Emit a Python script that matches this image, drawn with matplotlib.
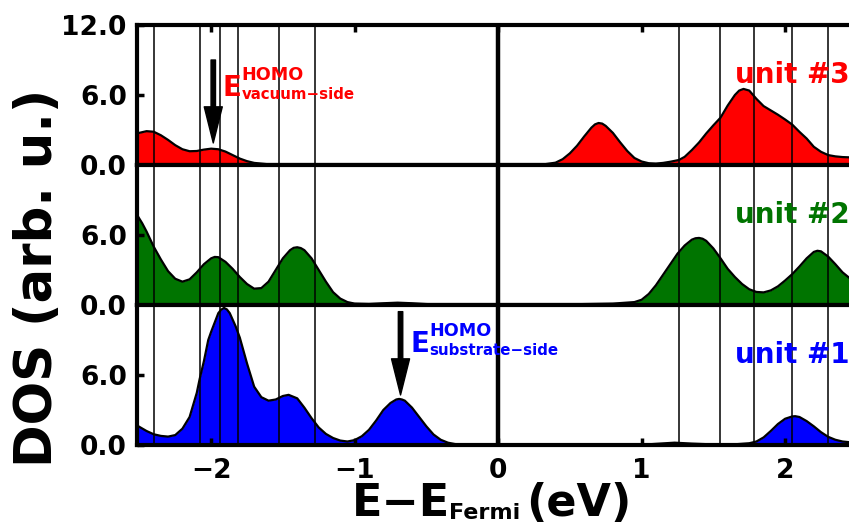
import matplotlib
matplotlib.use("Agg")
import matplotlib.pyplot as plt
from matplotlib.transforms import offset_copy

# ---------------- data ----------------
x_unit3 = [-2.52, -2.45, -2.40, -2.35, -2.30, -2.25, -2.20, -2.15, -2.10, -2.05,
           -2.00, -1.95, -1.90, -1.85, -1.80, -1.75, -1.70, -1.60, -1.50, -1.30,
           0.20, 0.30, 0.40, 0.45, 0.50, 0.55, 0.60, 0.65, 0.675, 0.70, 0.725, 0.75,
           0.80, 0.85, 0.90, 0.95, 1.00, 1.05, 1.10, 1.15, 1.20, 1.26,
           1.30, 1.35, 1.40, 1.45, 1.50, 1.55, 1.60, 1.65, 1.68, 1.71, 1.75,
           1.80, 1.85, 1.90, 1.95, 2.00, 2.05, 2.10, 2.15, 2.20, 2.25,
           2.30, 2.35, 2.40, 2.52]
dos_unit3 = [2.70, 2.90, 2.85, 2.55, 2.15, 1.70, 1.35, 1.18, 1.20, 1.32,
             1.40, 1.35, 1.15, 0.85, 0.55, 0.33, 0.18, 0.06, 0.02, 0.0,
             0.0, 0.02, 0.2, 0.5, 1.0, 1.65, 2.45, 3.2, 3.48, 3.6, 3.55, 3.35,
             2.75, 1.95, 1.2, 0.6, 0.3, 0.15, 0.12, 0.18, 0.28, 0.43,
             0.7, 1.28, 1.93, 2.7, 3.4, 4.06, 5.1, 6.0, 6.38, 6.52, 6.38,
             5.67, 5.05, 4.68, 4.31, 3.9, 3.46, 2.84, 2.27, 1.56, 1.13,
             0.85, 0.74, 0.68, 0.62]

x_unit2 = [-2.52, -2.48, -2.45, -2.40, -2.35, -2.30, -2.25, -2.20, -2.15, -2.10,
           -2.05, -2.00, -1.975, -1.95, -1.90, -1.85, -1.80, -1.75, -1.70, -1.65, -1.60,
           -1.55, -1.50, -1.45, -1.425, -1.40, -1.375, -1.35, -1.30, -1.25, -1.20, -1.15, -1.10,
           -1.05, -1.00, -0.90, -0.80, -0.70, -0.60, -0.50, -0.40, -0.20, 0.00,
           0.50, 0.80, 0.95, 1.00, 1.05, 1.10, 1.15, 1.20, 1.25, 1.30,
           1.35, 1.375, 1.40, 1.425, 1.45, 1.50, 1.55, 1.60, 1.65, 1.70, 1.75, 1.80,
           1.85, 1.90, 1.95, 2.00, 2.05, 2.10, 2.15, 2.20, 2.225, 2.25, 2.30,
           2.35, 2.40, 2.52]
dos_unit2 = [7.8, 7.0, 6.3, 5.0, 3.9, 2.9, 2.25, 2.0, 2.2, 2.8,
             3.5, 4.0, 4.12, 4.1, 3.7, 3.1, 2.4, 1.8, 1.4, 1.45, 2.0,
             3.0, 4.0, 4.7, 4.9, 4.95, 4.88, 4.7, 4.0, 3.0, 2.0, 1.1, 0.55,
             0.25, 0.12, 0.09, 0.15, 0.2, 0.15, 0.08, 0.04, 0.01, 0.0,
             0.06, 0.12, 0.25, 0.45, 0.95, 1.7, 2.6, 3.5, 4.4, 5.1,
             5.6, 5.72, 5.75, 5.68, 5.5, 4.85, 4.0, 3.1, 2.4, 1.8, 1.35, 1.12,
             1.08, 1.25, 1.6, 2.1, 2.65, 3.3, 4.0, 4.55, 4.65, 4.6, 4.15,
             3.5, 2.8, 1.6]

x_unit1 = [-2.52, -2.45, -2.40, -2.35, -2.30, -2.25, -2.20, -2.15, -2.10, -2.08,
           -2.05, -2.02, -2.00, -1.95, -1.93, -1.91, -1.89, -1.87, -1.83, -1.80, -1.75, -1.70,
           -1.65, -1.60, -1.55, -1.50, -1.46, -1.40, -1.35, -1.30, -1.25, -1.20,
           -1.15, -1.10, -1.05, -1.00, -0.95, -0.90, -0.85, -0.80, -0.75, -0.71, -0.69, -0.67,
           -0.65, -0.60, -0.55, -0.50, -0.45, -0.40, -0.35, -0.30, -0.20, 0.00,
           1.00, 1.10, 1.23, 1.35, 1.50, 1.65, 1.75, 1.80, 1.85, 1.90,
           1.95, 2.00, 2.05, 2.07, 2.10, 2.15, 2.20, 2.25, 2.30, 2.35, 2.40,
           2.52]
dos_unit1 = [1.7, 1.2, 0.92, 0.78, 0.72, 0.85, 1.4, 2.4, 4.47, 5.65,
             7.2, 9.0, 9.7, 11.3, 11.6, 11.75, 11.62, 11.3, 10.2, 9.2, 7.0, 5.0,
             4.1, 3.8, 3.9, 4.2, 4.3, 4.0, 3.2, 2.3, 1.5, 0.95,
             0.6, 0.38, 0.3, 0.42, 0.75, 1.3, 2.1, 3.0, 3.6, 3.9, 3.95, 3.9,
             3.8, 3.2, 2.4, 1.6, 0.9, 0.45, 0.2, 0.08, 0.02, 0.0,
             0.02, 0.1, 0.2, 0.12, 0.05, 0.06, 0.15, 0.3, 0.65, 1.2,
             1.8, 2.25, 2.45, 2.47, 2.4, 2.05, 1.6, 1.1, 0.7, 0.45, 0.3,
             0.15]

level_lines = [-2.40, -2.08, -1.94, -1.81, -1.53, -1.275,
               1.26, 1.547, 1.786, 2.047, 2.297]

unit_labels = ["unit #3", "unit #2", "unit #1"]
unit_colors = ["#ff0000", "#007400", "#0000ff"]
homo_subs = ["vacuum\u2212side", None, "substrate\u2212side"]
ytick_vals_top = [0, 6, 12]
ytick_lbl_top = ["0.0", "6.0", "12.0"]
ytick_vals = [0, 6]
ytick_lbl = ["0.0", "6.0"]
xtick_vals = [-2, -1, 0, 1, 2]
xtick_lbl = ["\u22122", "\u22121", "0", "1", "2"]

# ---------------- figure ----------------
plt.rcParams["font.family"] = ["DejaVu Sans"]
plt.rcParams["font.weight"] = "bold"

W, H = 849, 524
PT = 72.0 / 100.0  # points per pixel at dpi 100
fig = plt.figure(figsize=(W / 100, H / 100), dpi=100)

left_px, ppu = 136.5, 143.5
xmin, xmax = -2.52, 2.52
ax_left = left_px / W
ax_width = (xmax - xmin) * ppu / W
panel_tops = [25, 165, 305]
panel_h = 140

series = [(x_unit3, dos_unit3), (x_unit2, dos_unit2), (x_unit1, dos_unit1)]
axes = []
for i, (xs, ys) in enumerate(series):
    top = panel_tops[i]
    ax = fig.add_axes([ax_left, 1 - (top + panel_h) / H, ax_width, panel_h / H])
    axes.append(ax)
    ax.fill_between(xs, 0, ys, color=unit_colors[i], lw=0, zorder=1)
    ax.plot(xs, ys, color="black", lw=1.6, zorder=2)
    for xv in level_lines:
        ax.axvline(xv, color="black", lw=1.1, zorder=3)
    ax.axvline(0, color="black", lw=3.2, zorder=3)
    ax.set_xlim(xmin, xmax)
    ax.set_ylim(0, 12)
    for s in ax.spines.values():
        s.set_linewidth(3)
        s.set_zorder(5)
    if i == 0:
        ax.set_yticks(ytick_vals_top)
        ax.set_yticklabels(ytick_lbl_top)
    else:
        ax.set_yticks(ytick_vals)
        ax.set_yticklabels(ytick_lbl)
    ax.set_xticks(xtick_vals)
    ax.tick_params(axis="y", direction="in", length=5, width=2.5, pad=7,
                   labelsize=19, right=False)
    ax.tick_params(axis="x", direction="in", length=5, width=2.5, pad=9,
                   labelsize=19, top=(i == 0), bottom=(i == 2),
                   labelbottom=(i == 2))
    if i == 2:
        ax.set_xticklabels(xtick_lbl)
    for lbl in ax.get_yticklabels() + ax.get_xticklabels():
        lbl.set_fontweight("bold")
    ax.text(1.65, 7.0, unit_labels[i], color=unit_colors[i], fontsize=20,
            fontweight="bold", va="baseline", ha="left", zorder=6)


def homo_label(ax, x, y, color, sub):
    tr = ax.transData
    kw = dict(color=color, fontweight="bold", va="baseline", ha="left", zorder=6)
    ax.text(x, y, "E", fontsize=20, transform=tr, **kw)
    ax.text(x, y, "HOMO", fontsize=12.7,
            transform=offset_copy(tr, fig=fig, x=19.2 * PT, y=16.5 * PT,
                                  units="points"), **kw)
    ax.text(x, y, sub, fontsize=10.8,
            transform=offset_copy(tr, fig=fig, x=18.9 * PT, y=-2.7 * PT,
                                  units="points"), **kw)


arrow_kw = dict(facecolor="black", edgecolor="black", width=3.2,
                headwidth=13, headlength=26, shrink=0)
axes[0].annotate("", xy=(-1.985, 1.89), xytext=(-1.985, 9.0),
                 arrowprops=arrow_kw, zorder=6)
homo_label(axes[0], -1.92, 5.91, unit_colors[0], homo_subs[0])
axes[2].annotate("", xy=(-0.68, 4.29), xytext=(-0.68, 11.43),
                 arrowprops=arrow_kw, zorder=6)
homo_label(axes[2], -0.612, 7.97, unit_colors[2], homo_subs[2])

# axis labels
fig.text(13 / W, 1 - 277.5 / H, "DOS (arb. u.)", rotation=90, fontsize=37,
         fontweight="bold", ha="left", va="center")
fig.text(352 / W, 1 - 516 / H, "E\u2212E", fontsize=32, fontweight="bold",
         ha="left", va="baseline")
fig.text(449 / W, 1 - 519 / H, "Fermi", fontsize=16, fontweight="bold",
         ha="left", va="baseline")
fig.text(526 / W, 1 - 516 / H, "(eV)", fontsize=32, fontweight="bold",
         ha="left", va="baseline")

fig.savefig("out.png", dpi=100)
